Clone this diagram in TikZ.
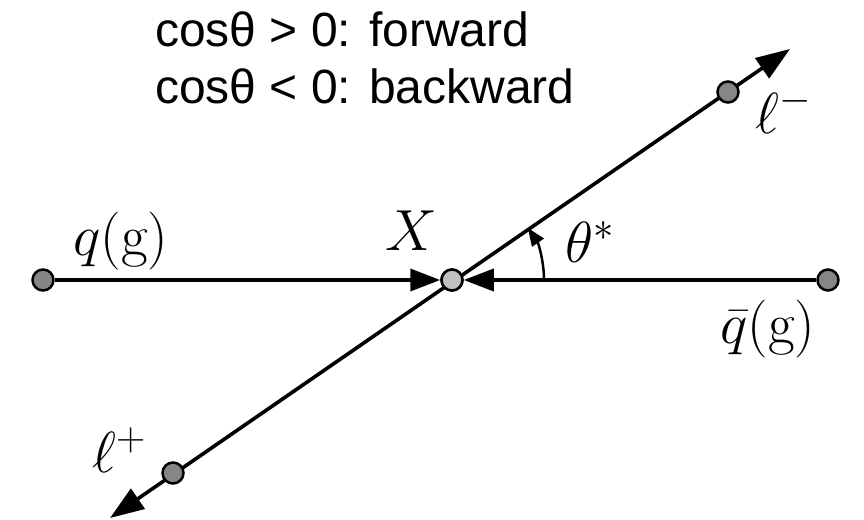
\RequirePackage{fix-cm}
\documentclass[tikz,border=0pt]{standalone}
\usepackage{fontspec}
\newfontfamily\heros{Liberation Sans}
\usetikzlibrary{arrows.meta}
\begin{document}
\begin{tikzpicture}[x=1pt,y=-1pt,
  dot/.style={circle,draw=black,line width=2.5pt,fill=gray!95!white,minimum size=21pt,inner sep=0pt},
  cdot/.style={circle,draw=black,line width=2.5pt,fill=gray!50!white,minimum size=21pt,inner sep=0pt},
  axis/.style={line width=3.6pt},
  bigtip/.style={-{Triangle[length=30pt,width=22pt]}},
  lbl/.style={inner sep=0pt,anchor=base west,font=\fontsize{58}{60}\selectfont},
  txt/.style={inner sep=0pt,anchor=base west,font=\heros\fontsize{48}{56}\selectfont}
]
\useasboundingbox (0,0) rectangle (864,519);
% coordinates
\coordinate (tu) at (790,49);
\coordinate (tl) at (110,518);
\node[cdot] (C) at (452,280) {};
% diagonal line
\draw[axis,{Triangle[length=34pt,width=24pt]}-{Triangle[length=34pt,width=24pt]}] (tl) -- (tu);
% horizontal lines
\node[dot] (L) at (43,280) {};
\node[dot] (R) at (828,280) {};
\draw[axis,bigtip] (L) -- (C);
\draw[axis,bigtip] (R) -- (C);
\node[cdot] at (C) {};
\node[dot] (U) at (728,92) {};
\node[dot] (D) at (173,473) {};
% angle
\draw[line width=2.5pt,-{Triangle[length=18pt,width=14pt]}] (452,280) ++(0:92) arc[start angle=0,end angle=-34.5,radius=92];
% labels
\node[lbl] (lq) at (73,255) {$q(\mathrm{g})$};
\node[lbl] (lx) at (385,250) {$X$};
\node[lbl] (lt) at (565,262) {$\theta^{*}$};
\node[lbl] (lqb) at (720,343) {$\bar{q}(\mathrm{g})$};
\node[lbl] (lm) at (755,133) {$\ell^{-}$};
\node[lbl] (lp) at (92,472) {$\ell^{+}$};
\node[txt] (t1) at (155,47) {cosθ > 0: forward};
\node[txt] (t2) at (155,103) {cosθ < 0: backward};
\end{tikzpicture}
\end{document}
